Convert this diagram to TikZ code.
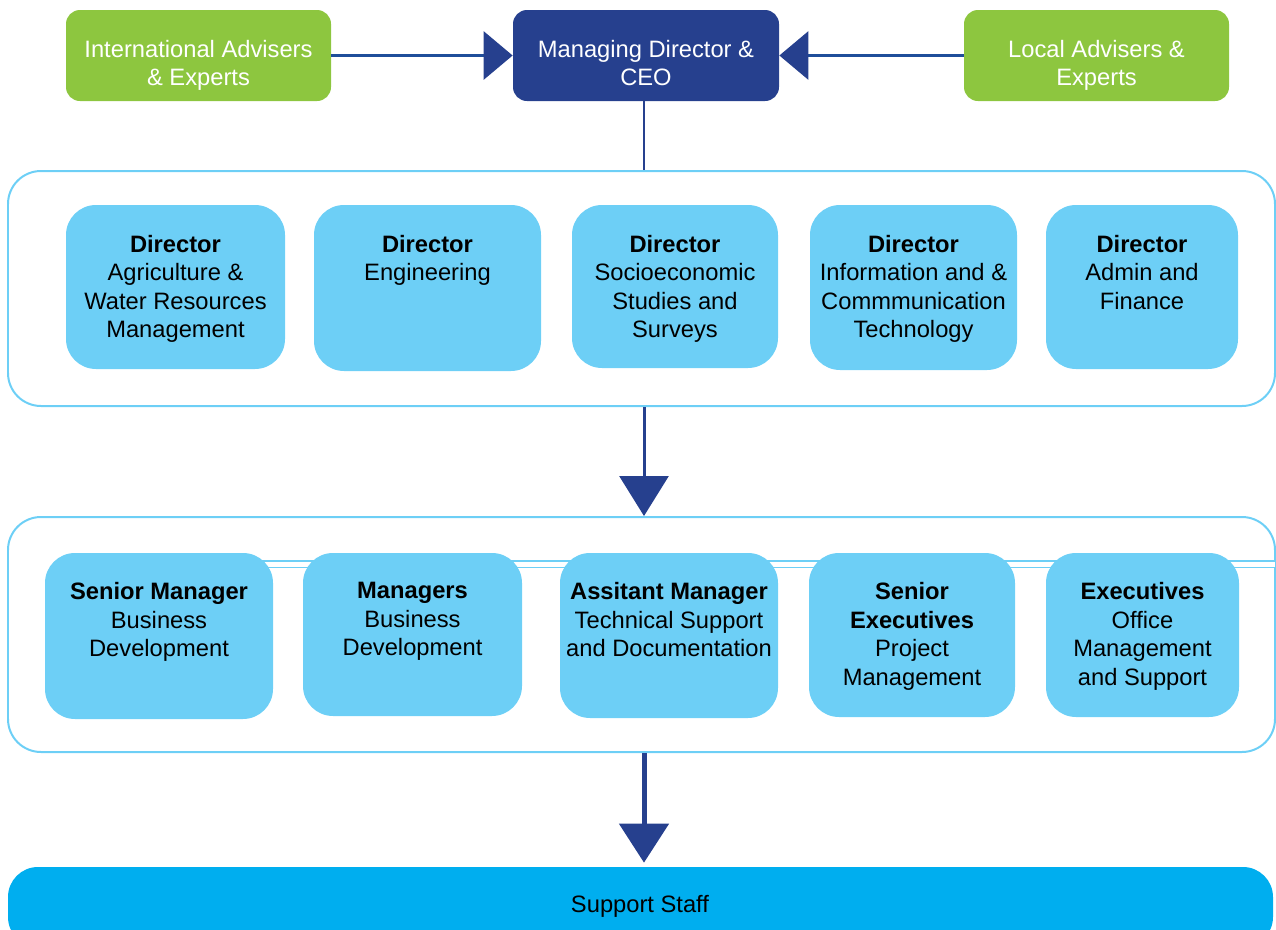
\documentclass[tikz,border=0pt]{standalone}
\usepackage{fontspec}
\setmainfont{Liberation Sans}
\usetikzlibrary{arrows.meta,fit}
\definecolor{advgreen}{HTML}{8DC63F}
\definecolor{ceoblue}{HTML}{26408E}
\definecolor{linkblue}{HTML}{1F4E9A}
\definecolor{unitblue}{HTML}{6DCFF6}
\definecolor{staffblue}{HTML}{00AEEF}
\tikzset{
  topbox/.style={rounded corners=0.28cm, inner sep=0pt},
  unitbox/.style={fill=unitblue, rounded corners=0.6cm, inner sep=0pt},
  frame/.style={draw=unitblue, line width=0.04cm, rounded corners=0.66cm, inner sep=0pt},
  boxtext/.style={anchor=north, align=center, inner sep=0pt, font=\fontsize{13.5}{16.2}\selectfont},
  bigtip/.style={-{Triangle[length=#1, width=0.98cm, color=ceoblue]}}
}

\begin{document}
\begin{tikzpicture}[x=0.02cm, y=-0.02cm]
\useasboundingbox (0,0) rectangle (1276,930);
\clip (0,0) rectangle (1276,930);

\node[topbox, fill=advgreen, fit={(66,10) (331,101)}] (intl) {};
\node[topbox, fill=ceoblue, fit={(513,10) (779,101)}] (ceo) {};
\node[topbox, fill=advgreen, fit={(964,10) (1229,101)}] (local) {};
\node[boxtext, text=white] (intl-t) at ([yshift=-0.6cm]intl.north) {International Advisers\\\& Experts};
\node[boxtext, text=white] (ceo-t) at ([yshift=-0.6cm]ceo.north) {Managing Director \&\\CEO};
\node[boxtext, text=white] (local-t) at ([yshift=-0.6cm]local.north) {Local Advisers \&\\Experts};

\node[frame, fit={(8,171) (1275,406)}] (directors) {};
\node[frame, fit={(8,517) (1275,752)}] (managers) {};
\draw[unitblue, line width=0.03cm, double=white, double distance=0.1cm] (160,564) -- (1275,564);

\foreach \n/\l/\r/\b/\txt in {
  d1/66/285/369/{\textbf{Director}\\Agriculture \&\\Water Resources\\Management},
  d2/314/541/371/{\textbf{Director}\\Engineering},
  d3/572/778/368/{\textbf{Director}\\Socioeconomic\\Studies and\\Surveys},
  d4/810/1017/370/{\textbf{Director}\\Information and \&\\Commmunication\\Technology},
  d5/1046/1238/369/{\textbf{Director}\\Admin and\\Finance}}
{
  \node[unitbox, fit={(\l,205) (\r,\b)}] (\n) {};
  \node[boxtext] (\n-t) at ([yshift=-0.6cm]\n.north) {\txt};
}

\foreach \n/\l/\r/\b/\txt in {
  m1/45/273/719/{\textbf{Senior Manager}\\Business\\Development},
  m2/303/522/716/{\textbf{Managers}\\Business\\Development},
  m3/560/778/718/{\textbf{Assitant Manager}\\Technical Support\\and Documentation},
  m4/809/1015/717/{\textbf{Senior}\\\textbf{Executives}\\Project\\Management},
  m5/1046/1239/717/{\textbf{Executives}\\Office\\Management\\and Support}}
{
  \node[unitbox, fit={(\l,553) (\r,\b)}] (\n) {};
  \node[boxtext] (\n-t) at ([yshift=-0.59cm]\n.north) {\txt};
}

\node[fill=staffblue, rounded corners=0.6cm, inner sep=0pt, fit={(8,867) (1273,947)}] (staff) {};
\node[font=\fontsize{13.5}{16.2}\selectfont, inner sep=0pt] (staff-t) at (640,906) {Support Staff};

\coordinate (spine) at (644,0);
\draw[linkblue, line width=0.06cm, -{Triangle[length=0.58cm, width=0.96cm, color=ceoblue]}] (intl.east) -- (ceo.west);
\draw[linkblue, line width=0.06cm, -{Triangle[length=0.58cm, width=0.96cm, color=ceoblue]}] (local.west) -- (ceo.east);
\draw[ceoblue, line width=0.04cm] (spine |- ceo.south) -- (spine |- directors.north);
\draw[ceoblue, line width=0.06cm, bigtip=0.8cm] (spine |- directors.south) -- (spine |- managers.north);
\draw[ceoblue, line width=0.1cm, bigtip=0.78cm] (spine |- managers.south) -- ([yshift=0.08cm]spine |- staff.north);
\end{tikzpicture}
\end{document}
